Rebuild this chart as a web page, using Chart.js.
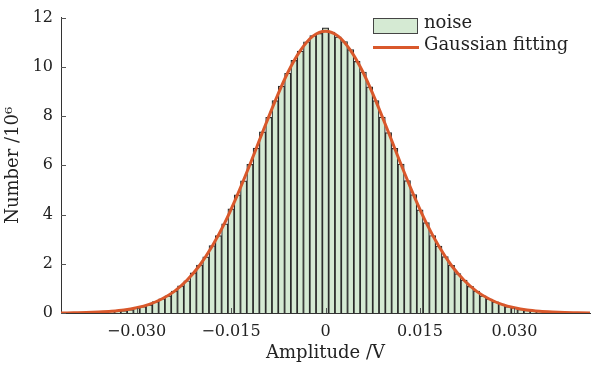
<!DOCTYPE html>
<html>
<head>
<meta charset="utf-8">
<script src="https://cdn.jsdelivr.net/npm/chart.js@4"></script>
<style>
  body { margin: 0; background: #fff; }
  #wrap { position: relative; width: 593px; height: 371px; }
  .lg { position: absolute; font-family: 'DejaVu Serif', serif; font-size: 18px; color: #222; line-height: 20px; white-space: nowrap; }
</style>
</head>
<body>
<div id="wrap">
  <canvas id="c"></canvas>
  <div style="position:absolute;left:373px;top:18px;width:43px;height:14px;background:#d5ead3;border:1.5px solid #444;"></div>
  <div style="position:absolute;left:373px;top:46px;width:46px;height:3px;background:#d9582b;"></div>
  <div class="lg" style="left:424px;top:12px;">noise</div>
  <div class="lg" style="left:424px;top:34px;">Gaussian fitting</div>
</div>
<script>
// histogram bins (V) and counts (10^6)
const binCenters = [-0.034,-0.033,-0.032,-0.031,-0.030,-0.029,-0.028,-0.027,-0.026,-0.025,-0.024,-0.023,-0.022,-0.021,-0.020,-0.019,-0.018,-0.017,-0.016,-0.015,-0.014,-0.013,-0.012,-0.011,-0.010,-0.009,-0.008,-0.007,-0.006,-0.005,-0.004,-0.003,-0.002,-0.001,0,
  0.001,0.002,0.003,0.004,0.005,0.006,0.007,0.008,0.009,0.010,0.011,0.012,0.013,0.014,0.015,0.016,0.017,0.018,0.019,0.020,0.021,0.022,0.023,0.024,0.025,0.026,0.027,0.028,0.029,0.030,0.031,0.032,0.033,0.034];
const noiseCounts = [0.05,0.08,0.10,0.14,0.20,0.26,0.33,0.46,0.58,0.70,0.89,1.10,1.31,1.63,1.95,2.28,2.74,3.14,3.62,4.23,4.80,5.37,6.04,6.70,7.36,7.95,8.63,9.22,9.74,10.26,10.64,11.02,11.27,11.36,11.58,
  11.41,11.22,11.03,10.70,10.22,9.79,9.19,8.63,7.96,7.33,6.69,6.05,5.38,4.81,4.19,3.67,3.15,2.72,2.29,1.94,1.60,1.34,1.08,0.89,0.70,0.57,0.45,0.36,0.26,0.21,0.15,0.11,0.08,0.05];

// gaussian fit curve
const fitX = [-0.042,-0.040,-0.038,-0.036,-0.034,-0.032,-0.030,-0.028,-0.026,-0.024,-0.022,-0.020,-0.018,-0.016,-0.014,-0.012,-0.010,-0.008,-0.006,-0.004,-0.002,0,
  0.002,0.004,0.006,0.008,0.010,0.012,0.014,0.016,0.018,0.020,0.022,0.024,0.026,0.028,0.030,0.032,0.034,0.036,0.038,0.040,0.042];
const fitY = [0.00,0.01,0.02,0.04,0.07,0.12,0.21,0.35,0.57,0.88,1.33,1.93,2.71,3.66,4.79,6.03,7.34,8.61,9.76,10.66,11.25,11.45,
  11.25,10.66,9.76,8.61,7.34,6.03,4.79,3.66,2.71,1.93,1.33,0.88,0.57,0.35,0.21,0.12,0.07,0.04,0.02,0.01,0.00];

const xTicks = [-0.030,-0.015,0,0.015,0.030];
const yTicks = [0,2,4,6,8,10,12];

Chart.defaults.font.family = "'DejaVu Serif', serif";
Chart.defaults.font.size = 16;
Chart.defaults.color = '#222';

const tickMarks = {
  id: 'tickMarks',
  afterDraw(chart){
    const ctx = chart.ctx, xs = chart.scales.x, ys = chart.scales.y;
    ctx.save();
    ctx.strokeStyle = '#555';
    ctx.lineWidth = 1;
    ctx.beginPath();
    yTicks.forEach(v=>{ const p = Math.round(ys.getPixelForValue(v))+0.5; ctx.moveTo(xs.left, p); ctx.lineTo(xs.left+5, p); });
    xTicks.forEach(v=>{ const p = Math.round(xs.getPixelForValue(v))+0.5; ctx.moveTo(p, ys.bottom); ctx.lineTo(p, ys.bottom-5); });
    ctx.stroke();
    ctx.restore();
  }
};

new Chart(document.getElementById('c'), {
  data: {
    datasets: [
      { type: 'line', label: 'Gaussian fitting', order: 0,
        data: fitX.map((x,i)=>({x, y: fitY[i]})),
        borderColor: '#d9582b', borderWidth: 3, pointRadius: 0, cubicInterpolationMode: 'monotone', fill: false },
      { type: 'bar', label: 'noise', order: 1,
        data: binCenters.map((x,i)=>({x, y: noiseCounts[i]})),
        backgroundColor: '#d5ead3', borderColor: '#2a2a2a', borderWidth: 1.2,
        barPercentage: 1, categoryPercentage: 1 }
    ]
  },
  options: {
    responsive: true, maintainAspectRatio: false, animation: false,
    layout: { padding: { top: 16, right: 3, left: 0, bottom: 0 } },
    plugins: { legend: { display: false }, tooltip: { enabled: false } },
    scales: {
      x: {
        type: 'linear', min: -0.042, max: 0.042, offset: false,
        afterBuildTicks: s => { s.ticks = xTicks.map(v=>({value: v})); },
        afterFit: s => { s.height = 58; },
        ticks: { padding: 9, maxRotation: 0, autoSkip: false,
          callback: v => v === 0 ? '0' : (v < 0 ? '\u2212' : '') + Math.abs(v).toFixed(3) },
        grid: { display: false, drawTicks: false },
        border: { display: true, color: '#333', width: 1 },
        title: { display: true, text: 'Amplitude /V', font: { size: 18 }, padding: { top: 0, bottom: 7 } }
      },
      y: {
        min: 0, max: 12,
        afterBuildTicks: s => { s.ticks = yTicks.map(v=>({value: v})); },
        afterFit: s => { s.width = 61; },
        ticks: { padding: 8 },
        grid: { display: false, drawTicks: false },
        border: { display: true, color: '#333', width: 1 },
        title: { display: true, text: 'Number /10\u2076', font: { size: 18 }, padding: { top: 3, bottom: 0 } }
      }
    }
  },
  plugins: [tickMarks]
});
</script>
</body>
</html>
